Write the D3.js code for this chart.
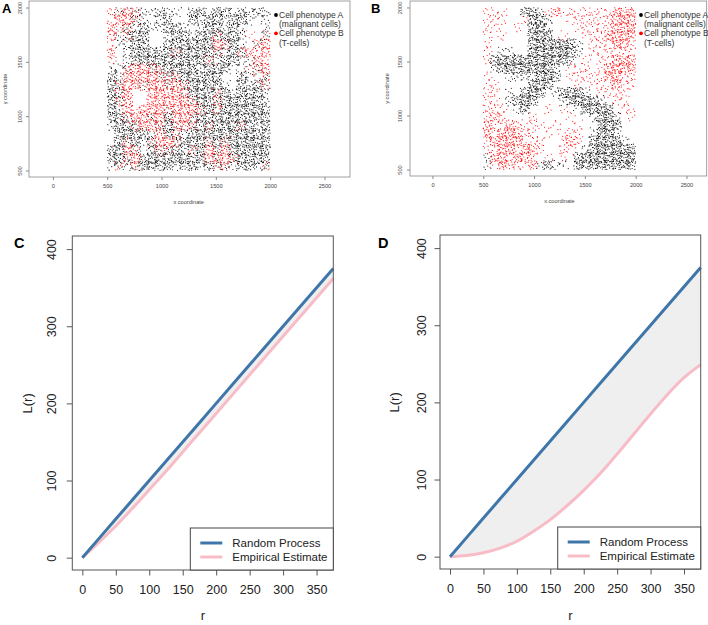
<!DOCTYPE html>
<html lang="en">
<head>
<meta charset="UTF-8">
<title>Cell phenotypes and L-function</title>
<script src="https://d3js.org/d3.v7.min.js"></script>
<style>
  body { margin: 0; background: #fff; }
  svg { display: block; font-family: 'Liberation Sans', Arial, sans-serif; }
  .tag { font-weight: bold; }
</style>
</head>
<body>
<div id="chart"></div>
<script>
// ---------- data ----------
// cell maps, 75 x 75 coordinate cells, top row = y 2000
// k / b = phenotype A dense / sparse, r / p = phenotype B dense / sparse, m = both, . = empty
const cellSize = 75;
const gridOrigin = [500, 2000];

const mapA = [
  "pmrmbbkbb.kkbkkbkbkb",
  "prrmb.bk..kbkkbkkb.b",
  "rpmbkbbkkb.bkkbkb..b",
  "rbmkk..bkkbkkmkkbp.m",
  "pbbkk..kkkkkkrmkb.mr",
  "r.bkkkkkmkkkkmbkmrpr",
  "p.bkkkkkkkkkmbkkbbrp",
  "bbmrrmmkkkkbkkk.bpmr",
  "kbrrrrmmmkkkkk..kbpm",
  "kmrrmrrmrmkkkkb.kbkm",
  "kmr..rrrrmkkkmkbkkkb",
  "kmr..rrrrrmkkmkkkkkb",
  "kbrprrrmrrrmkmkkkkkk",
  "kkmrrmrkrrmkkkkkkkkk",
  "bkkmrrmkmrmkmkkkmkbk",
  ".kkkkbrkmbkkkkkkkkkk",
  ".kmkbmrrmkkkmkmkkkkk",
  "kkrm.kmmkbmkrmrkkkkk",
  "kkmrkkkkkkkkrmrmkkkk",
  "bmbmkkkkbkkbkmmbkkbm"
];

const mapB = [
  "ppp..kkbprppppppprrr",
  "ppp..pkkb..pppppprrr",
  "pp..p.kkb...ppppprrr",
  "p.p...kkk.p..ppprrrr",
  "p.....kkkkkkb.ppprrp",
  "p.bb..kkkkkkb.pppppp",
  "pkkkkkkkkkkb.p.pprrr",
  ".bkkkkkkkb.ppp.prrrr",
  "p..bbbbkkk.ppppprrpp",
  "pp....kkk...p.ppprpp",
  "pp.b.kkk.bkkkb.pppp.",
  "pp.bkkk...bkkkkb.pp.",
  "ppp.bk..p.p.bkkkk.pp",
  "prp...p....p..bkkb.p",
  "rpprpppp.p..p..kkk..",
  "rprrrpp.p.ppp.bkkb..",
  "prrrrppp..prp.kkkkb.",
  "pprrprrp..pp.bkkkkkk",
  "brrprrp.p.p.kkkkkkkk",
  "bprrpprbkbb.kkkkkkkk"
];

const coordTicksX = [0, 500, 1000, 1500, 2000, 2500];
const coordTicksY = [500, 1000, 1500, 2000];
const phenotypeLabels = [["Cell phenotype A", "(malignant cells)"], ["Cell phenotype B", "(T-cells)"]];
const phenotypeColors = ["#000000", "#ff0000"];

const rValues    = [0, 25, 50, 75, 100, 125, 150, 175, 200, 225, 250, 275, 300, 325, 350, 375];
const randomL    = [0, 25, 50, 75, 100, 125, 150, 175, 200, 225, 250, 275, 300, 325, 350, 375];
const empiricalC = [0, 20, 41, 64, 88, 112, 137, 162, 187, 212, 237, 262, 287, 312, 337, 362];
const empiricalD = [0, 1.5, 5, 11, 20, 33, 48, 66, 86, 108, 133, 159, 185, 210, 232, 249];
const rTicks = [0, 50, 100, 150, 200, 250, 300, 350];
const lTicks = [0, 100, 200, 300, 400];
const curveLabels = ["Random Process", "Empirical Estimate"];
const curveColors = ["#3f76a9", "#f8bcc7"];

// points per cell for each map symbol: [phenotype A, phenotype B]
const perCell = { k: [20, 0], b: [8, 0], r: [0, 18], p: [0, 6], m: [10, 9], ".": [0, 0] };

// ---------- chart ----------
const W = 708, H = 625;
const svg = d3.select("#chart").append("svg").attr("width", W).attr("height", H);
svg.append("rect").attr("width", W).attr("height", H).attr("fill", "#fff");

function halton(i, b) {
  let f = 1, r = 0;
  while (i > 0) { f /= b; r += f * (i % b); i = Math.floor(i / b); }
  return r;
}

// spread each cell's points evenly (Halton placement, no randomness),
// letting them run a little over the cell edge so blocks don't show
function cellsToPoints(map, denseBoost) {
  const pts = [];
  let n = 1;
  const spread = 1.3;
  map.forEach((row, i) => {
    [...row].forEach((ch, j) => {
      let [nA, nB] = perCell[ch] || [0, 0];
      if (ch === "k") nA = Math.round(nA * denseBoost);
      for (let q = 0; q < nA + nB; q++, n++) {
        const fx = 0.5 + (halton(n, 2) - 0.5) * spread;
        const fy = 0.5 + (halton(n, 3) - 0.5) * spread;
        pts.push({
          x: gridOrigin[0] + (j + fx) * cellSize,
          y: gridOrigin[1] - (i + fy) * cellSize,
          type: q < nA ? 0 : 1
        });
      }
    });
  });
  // the tissue window is 500..2000 on both axes
  return pts.filter(d => d.x >= 500 && d.x <= 2000 && d.y >= 500 && d.y <= 2000);
}

function scatterPanel(o) {
  const g = svg.append("g");
  const x = d3.scaleLinear().domain(o.xDomain).range([o.left, o.right]);
  const y = d3.scaleLinear().domain([440, 2060]).range([o.bottom, o.top]);
  const pts = cellsToPoints(o.map, o.denseBoost);

  [0, 1].forEach(t => {
    g.append("g").selectAll("circle")
      .data(pts.filter(d => d.type === t))
      .join("circle")
      .attr("cx", d => x(d.x))
      .attr("cy", d => y(d.y))
      .attr("r", 0.55)
      .attr("fill", phenotypeColors[t]);
  });

  g.append("rect")
    .attr("x", o.left).attr("y", o.top)
    .attr("width", o.right - o.left).attr("height", o.bottom - o.top)
    .attr("fill", "none").attr("stroke", "#8a8a8a").attr("stroke-width", 0.8);

  // x axis
  const xa = g.append("g").attr("transform", `translate(0,${o.bottom})`)
    .call(d3.axisBottom(x).tickValues(coordTicksX).tickSize(3).tickPadding(4).tickFormat(d3.format("d")));
  xa.select(".domain").remove();
  xa.selectAll("line").attr("stroke", "#8a8a8a");
  xa.selectAll("text").attr("font-size", 5.6).attr("fill", "#444").attr("font-family", "inherit");

  // y axis, labels parallel to axis as in R
  const ya = g.append("g").attr("transform", `translate(${o.left},0)`)
    .call(d3.axisLeft(y).tickValues(coordTicksY).tickSize(3).tickFormat(d3.format("d")));
  ya.select(".domain").remove();
  ya.selectAll("line").attr("stroke", "#8a8a8a");
  ya.selectAll("text")
    .attr("font-size", 5.6).attr("fill", "#444").attr("font-family", "inherit")
    .attr("text-anchor", "middle").attr("x", null).attr("dy", null)
    .attr("transform", `translate(${o.yTickX - o.left},0) rotate(-90)`)
    .attr("dy", "0.35em");

  g.append("text").attr("x", x(1250)).attr("y", o.bottom + 27)
    .attr("text-anchor", "middle").attr("font-size", 5.6).attr("fill", "#444").text("x coordinate");
  g.append("text")
    .attr("transform", `translate(${o.yTitleX},${y(1250)}) rotate(-90)`)
    .attr("text-anchor", "middle").attr("dy", "0.35em")
    .attr("font-size", 5.6).attr("fill", "#444").text("y coordinate");

  g.append("text").attr("class", "tag").attr("x", o.tagX).attr("y", 13)
    .attr("font-size", 13).text(o.tag);

  // legend
  const lg = g.append("g").attr("transform", `translate(${o.legendX},15)`);
  phenotypeLabels.forEach((lines, i) => {
    lg.append("circle").attr("cx", 0).attr("cy", i * 18.3).attr("r", 1.9).attr("fill", phenotypeColors[i]);
    lines.forEach((s, k) => {
      lg.append("text").attr("x", 3).attr("y", i * 18.3 + k * 9.3).attr("dy", "0.35em")
        .attr("font-size", 8.5).attr("fill", "#333").text(s);
    });
  });
}

function curvePanel(o) {
  const g = svg.append("g");
  const x = d3.scaleLinear().domain([-15, 375]).range([o.left, o.right]);
  const y = d3.scaleLinear().domain([-16, 417]).range([o.bottom, o.top]);
  const rows = rValues.map((r, i) => ({ r, csr: randomL[i], emp: o.emp[i] }));

  g.append("path").datum(rows)
    .attr("d", d3.area().x(d => x(d.r)).y0(d => y(d.emp)).y1(d => y(d.csr)).curve(d3.curveMonotoneX))
    .attr("fill", "#efefef");

  g.append("path").datum(rows)
    .attr("d", d3.line().x(d => x(d.r)).y(d => y(d.emp)).curve(d3.curveMonotoneX))
    .attr("fill", "none").attr("stroke", curveColors[1]).attr("stroke-width", 3);
  g.append("path").datum(rows)
    .attr("d", d3.line().x(d => x(d.r)).y(d => y(d.csr)))
    .attr("fill", "none").attr("stroke", curveColors[0]).attr("stroke-width", 3);

  g.append("rect")
    .attr("x", o.left).attr("y", o.top)
    .attr("width", o.right - o.left).attr("height", o.bottom - o.top)
    .attr("fill", "none").attr("stroke", "#555").attr("stroke-width", 1);

  const xa = g.append("g").attr("transform", `translate(0,${o.bottom})`)
    .call(d3.axisBottom(x).tickValues(rTicks).tickSize(5.5).tickPadding(10));
  xa.select(".domain").remove();
  xa.selectAll("line").attr("stroke", "#555");
  xa.selectAll("text").attr("font-size", 12.5).attr("fill", "#222").attr("font-family", "inherit");

  const ya = g.append("g").attr("transform", `translate(${o.left},0)`)
    .call(d3.axisLeft(y).tickValues(lTicks).tickSize(5.5));
  ya.select(".domain").remove();
  ya.selectAll("line").attr("stroke", "#555");
  ya.selectAll("text")
    .attr("font-size", 12.5).attr("fill", "#222").attr("font-family", "inherit")
    .attr("text-anchor", "middle").attr("x", null).attr("dy", null)
    .attr("transform", `translate(${o.yTickX - o.left},0) rotate(-90)`)
    .attr("dy", "0.35em");

  g.append("text").attr("x", x(180)).attr("y", 615).attr("dy", "0.35em")
    .attr("text-anchor", "middle").attr("font-size", 13).attr("fill", "#222").text("r");
  g.append("text")
    .attr("transform", `translate(${o.yTitleX},${y(200)}) rotate(-90)`)
    .attr("text-anchor", "middle").attr("dy", "0.35em")
    .attr("font-size", 13).attr("fill", "#222").text("L(r)");

  g.append("text").attr("class", "tag").attr("x", o.tagX).attr("y", 248)
    .attr("font-size", 14.5).text(o.tag);

  // legend, bottom right
  const lw = 143, lh = 42;
  const lg = g.append("g").attr("transform", `translate(${o.right - lw},${o.bottom - lh})`);
  lg.append("rect").attr("width", lw).attr("height", lh)
    .attr("fill", "#fff").attr("stroke", "#444").attr("stroke-width", 1);
  curveLabels.forEach((s, i) => {
    const cy = 15 + i * 14;
    lg.append("line").attr("x1", 10).attr("x2", 32).attr("y1", cy).attr("y2", cy)
      .attr("stroke", curveColors[i]).attr("stroke-width", 3);
    lg.append("text").attr("x", 42).attr("y", cy).attr("dy", "0.35em")
      .attr("font-size", 11.5).attr("fill", "#222").text(s);
  });
}

scatterPanel({ map: mapA, tag: "A", tagX: 2, left: 29, right: 350, top: 1, bottom: 177,
  xDomain: [-220, 2735], yTickX: 20, yTitleX: 5, legendX: 276, denseBoost: 1 });
scatterPanel({ map: mapB, tag: "B", tagX: 371, left: 410, right: 706.7, top: 1, bottom: 176,
  xDomain: [-221, 2699], yTickX: 400, yTitleX: 387, legendX: 641, denseBoost: 1.1 });
curvePanel({ emp: empiricalC, tag: "C", tagX: 14, left: 72.3, right: 333.3, top: 236, bottom: 570,
  yTickX: 51.5, yTitleX: 27.5 });
curvePanel({ emp: empiricalD, tag: "D", tagX: 378, left: 440, right: 700.7, top: 235, bottom: 569,
  yTickX: 421.5, yTitleX: 394.7 });
</script>
</body>
</html>
